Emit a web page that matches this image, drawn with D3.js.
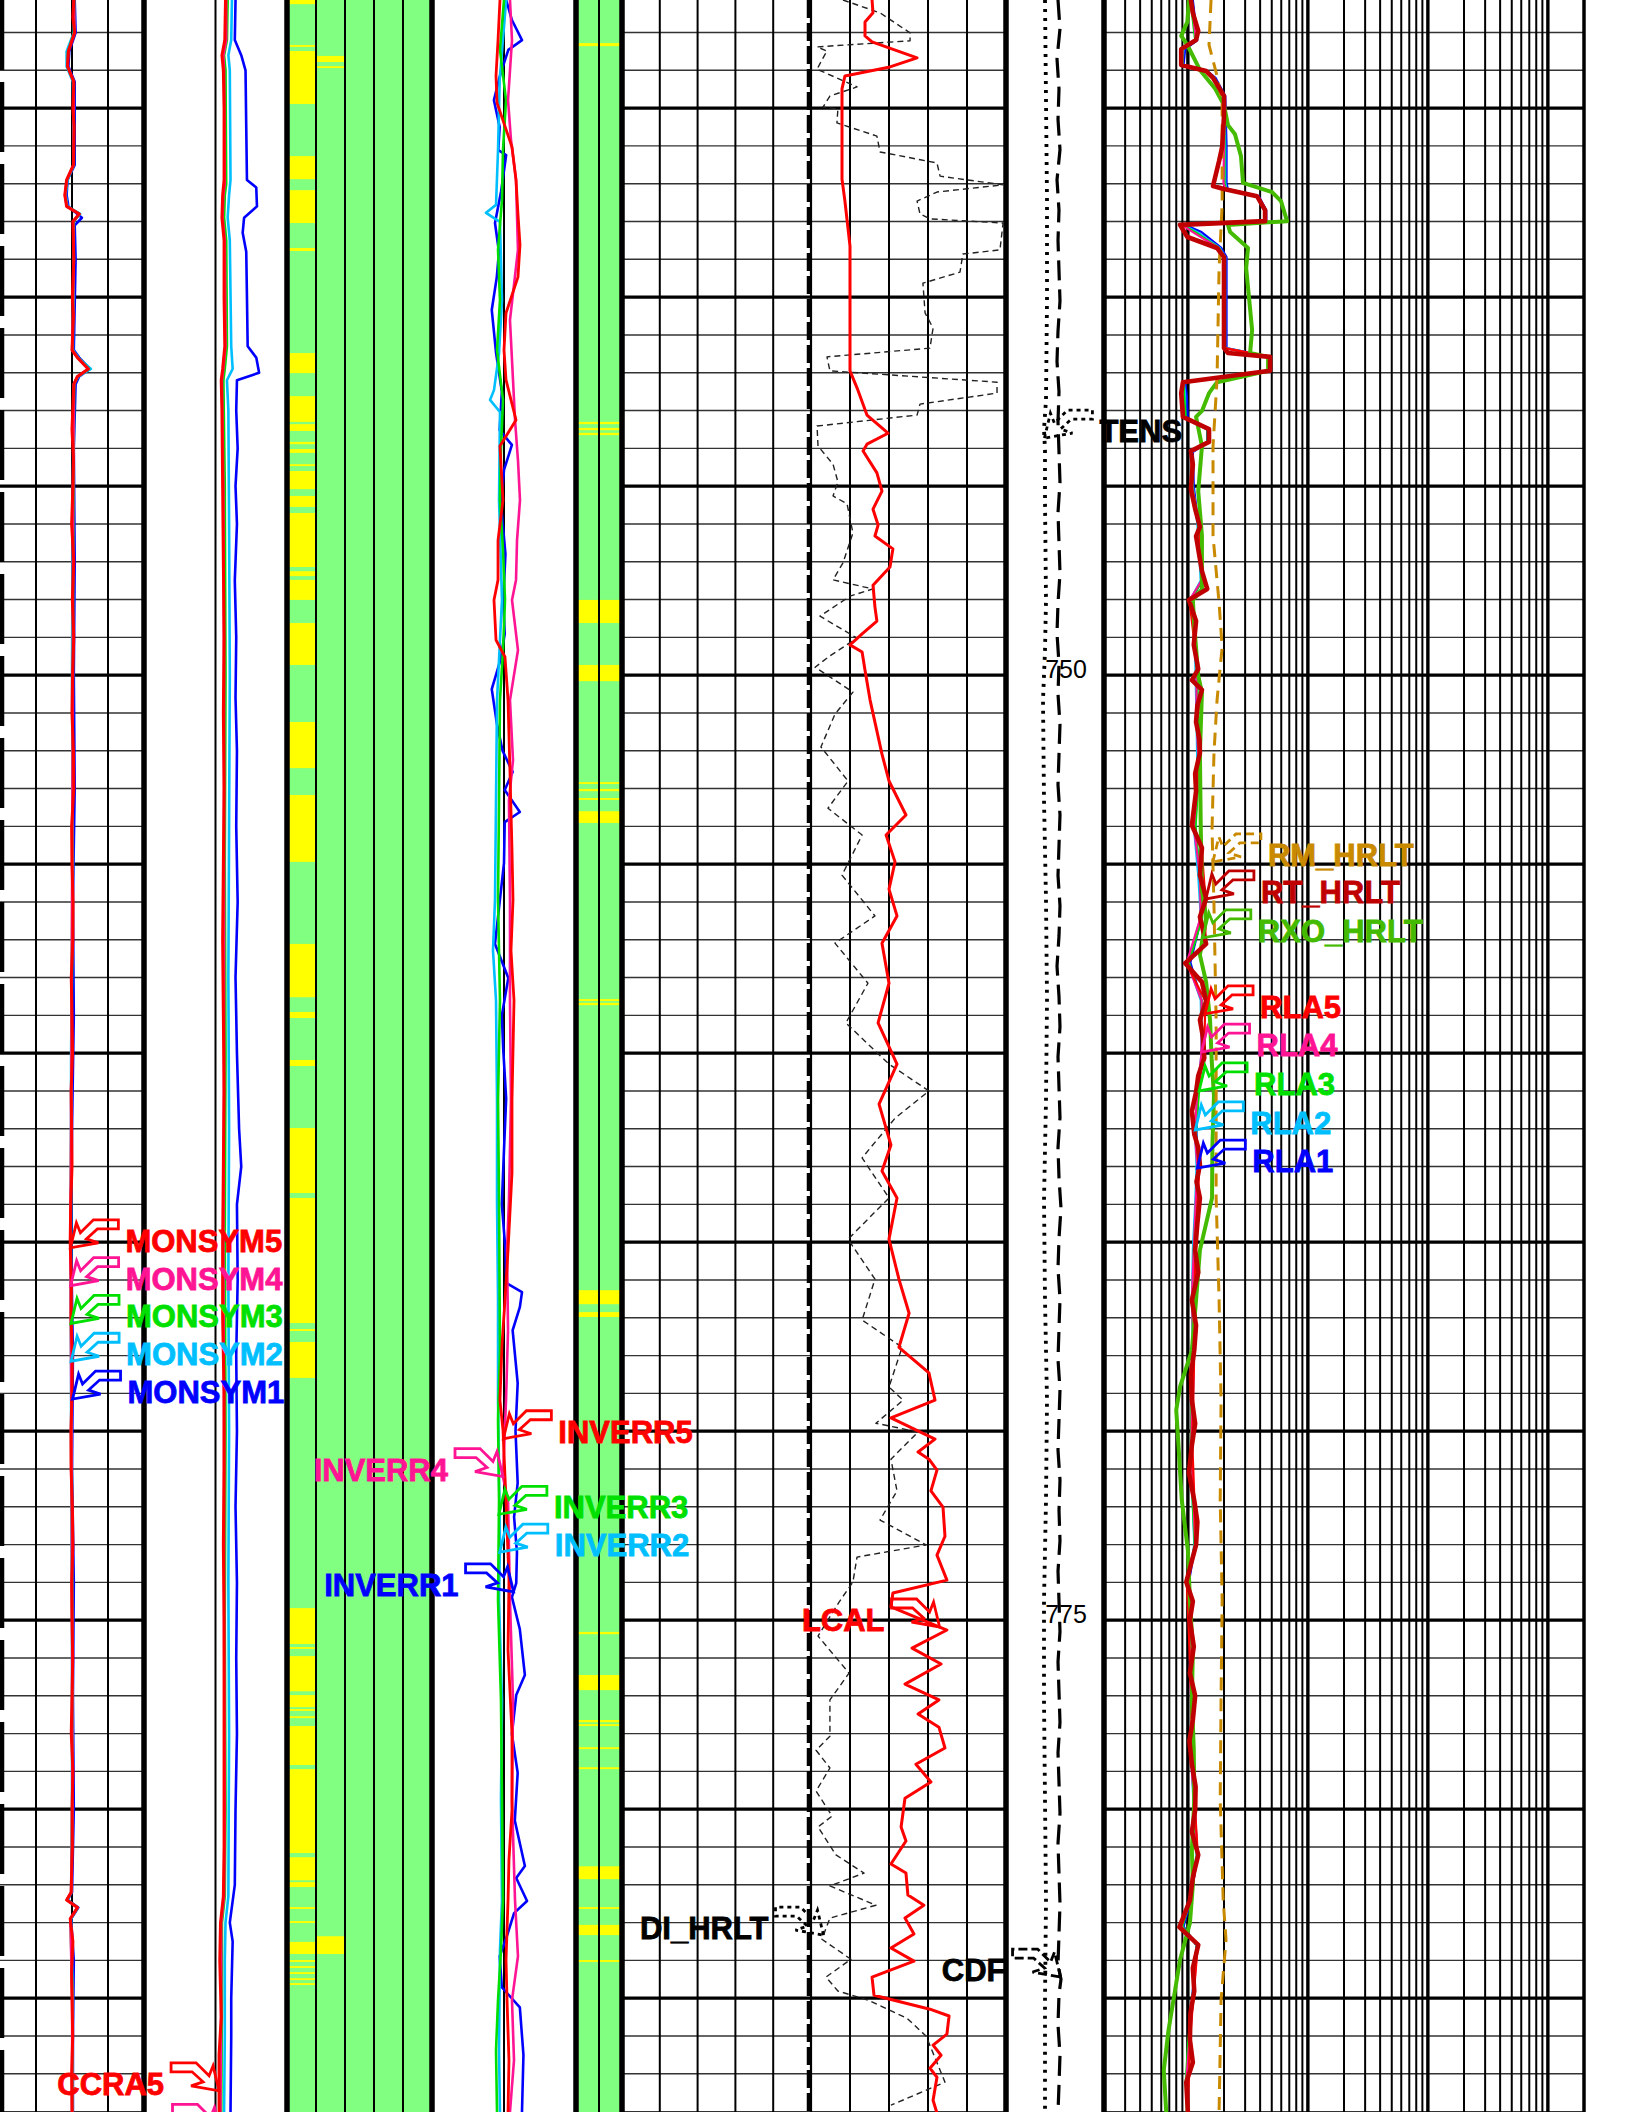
<!DOCTYPE html>
<html><head><meta charset="utf-8">
<script src="https://cdn.jsdelivr.net/npm/d3@7"></script>
<style>html,body{margin:0;padding:0;background:#fff}svg{display:block}</style>
</head><body>
<svg id="c" width="1632" height="2112"></svg>
<script>
// ---------------- DATA ----------------
const depthTop = 732.14, depthBottom = 788.01;
const majorDepths = [735,740,745,750,755,760,765,770,775,780,785];
const minorDepths = d3.range(733, 789, 1);
const depthLabels = [750, 775];

// Track 1 : MONSYM (0..8)
const monsym5 = [[732.14,4.1],[732.6,4.05],[733.0,4.15],[733.5,3.8],[733.9,3.75],[734.3,4.1],[735.0,4.05],[735.5,4.12],[736.5,4.08],[736.9,3.7],[737.3,3.6],[737.6,3.7],[737.8,4.4],[738.0,4.05],[739.0,4.1],[740.0,4.02],[740.5,4.08],[741.4,4.0],[741.6,4.3],[741.9,4.9],[742.1,4.3],[742.3,4.1],[743.5,4.0],[744.3,4.08],[745,4.05],[746,3.98],[747,4.1],[748,4.02],[749,4.1],[750,4.03],[751,4.0],[752,4.08],[753,4.1],[754,3.98],[755,4.0],[756,4.06],[757,4.05],[758,3.96],[759,4.0],[760,4.03],[761,3.95],[762,3.98],[763,4.0],[764,3.93],[765,3.9],[766,3.97],[767,3.95],[768,4.02],[769,4.0],[770,3.94],[771,3.95],[772,4.02],[773,4.05],[774,3.98],[775,4.0],[776,4.04],[777,4.0],[778,3.96],[779,4.05],[780,4.0],[781,4.02],[782.2,3.95],[782.4,3.7],[782.6,4.3],[782.9,3.9],[783.5,4.05],[784.3,3.98],[785,4.0],[786,4.04],[787,3.98],[788,4.0]];
const monsym4 = [[732.14,4.11],[733.0,4.14],[733.5,3.79],[733.9,3.76],[734.3,4.1],[736.5,4.09],[736.9,3.71],[737.3,3.61],[737.6,3.71],[737.8,4.41],[738.0,4.06],[739,4.1],[741.4,4.01],[741.6,4.31],[741.9,4.92],[742.1,4.31],[742.3,4.11],[745,4.06],[750,4.05],[755,4.01],[760,3.97],[765,3.91],[770,3.97],[775,4.01],[780,4.02],[782.2,3.96],[782.4,3.71],[782.6,4.31],[782.9,3.91],[785,4.01],[788,4.01]];
const monsym3 = [[732.14,4.12],[733.0,4.12],[733.5,3.78],[733.9,3.75],[734.3,4.1],[736.5,4.1],[736.9,3.72],[737.3,3.62],[737.6,3.72],[737.8,4.42],[738.0,4.08],[739,4.1],[741.4,4.02],[741.6,4.32],[741.9,4.95],[742.1,4.32],[742.3,4.12],[745,4.08],[750,4.05],[755,4.02],[760,3.98],[765,3.92],[770,3.98],[775,4.02],[780,4.02],[782.2,3.97],[782.4,3.72],[782.6,4.32],[782.9,3.92],[785,4.02],[788,4.02]];
const monsym2 = [[732.14,4.1],[733.0,4.1],[733.5,3.7],[733.9,3.7],[734.3,4.05],[736.5,4.1],[736.9,3.75],[737.3,3.65],[737.6,3.75],[737.8,4.45],[738.0,4.1],[739,4.1],[741.4,4.05],[741.6,4.35],[741.9,5.05],[742.1,4.35],[742.3,4.1],[745,4.05],[750,4.0],[755,4.05],[760,3.95],[765,3.95],[770,3.95],[775,4.0],[780,4.0],[782.2,3.95],[782.4,3.75],[782.6,4.3],[782.9,3.95],[785,4.05],[788,4.0]];
const monsym1 = [[732.14,4.15],[733.0,4.2],[733.5,3.85],[733.9,3.8],[734.3,4.15],[736.5,4.15],[736.9,3.75],[737.3,3.7],[737.6,3.8],[737.9,4.55],[738.1,4.15],[739,4.2],[741.4,4.1],[741.6,4.4],[741.9,5.0],[742.1,4.4],[742.3,4.2],[744,4.1],[747,4.15],[750,4.1],[753,4.15],[756,4.05],[759,4.1],[762,4.0],[765,3.95],[768,4.05],[771,4.0],[774,4.1],[777,4.05],[780,4.1],[782.2,4.0],[782.4,3.75],[782.6,4.35],[782.9,3.95],[784,4.1],[786,4.05],[788,4.05]];

// Track 2 : CCRA (0..2)
const ccra1 = [[732.14,1.28],[733.2,1.27],[733.6,1.36],[734.0,1.42],[735.5,1.43],[736.9,1.44],[737.1,1.57],[737.6,1.58],[737.9,1.40],[738.3,1.38],[738.8,1.43],[740,1.44],[741.3,1.45],[741.6,1.57],[742.0,1.61],[742.2,1.30],[743,1.29],[744,1.31],[745,1.28],[746,1.30],[747.5,1.27],[749,1.29],[750.6,1.28],[752,1.30],[754,1.29],[756,1.31],[758,1.28],[760,1.30],[762,1.33],[763,1.36],[764,1.30],[766,1.31],[768,1.29],[770,1.30],[772,1.28],[774,1.30],[776,1.29],[778,1.30],[780,1.28],[782,1.27],[783,1.20],[783.5,1.24],[785,1.22],[786,1.22],[788,1.21]];
const ccra2 = [[732.14,1.23],[733.2,1.22],[733.6,1.18],[734.0,1.20],[736.9,1.21],[737.3,1.19],[737.9,1.17],[738.5,1.20],[741.3,1.22],[741.9,1.24],[742.2,1.16],[743,1.18],[746,1.19],[750,1.20],[754,1.19],[758,1.18],[762,1.19],[766,1.18],[770,1.19],[774,1.18],[778,1.19],[782.3,1.18],[783,1.14],[784,1.13],[786,1.13],[788,1.12]];
const ccra3 = [[732.14,1.17],[733.2,1.16],[733.6,1.12],[734.0,1.14],[737.0,1.15],[737.3,1.13],[737.9,1.12],[738.5,1.15],[741.3,1.16],[741.9,1.13],[742.2,1.11],[745,1.13],[750,1.14],[755,1.13],[760,1.14],[765,1.13],[770,1.14],[775,1.13],[780,1.14],[782.3,1.13],[783,1.09],[785,1.09],[788,1.08]];
const ccra4 = [[732.14,1.15],[733.2,1.15],[733.6,1.11],[734.0,1.12],[737.0,1.13],[737.3,1.11],[737.9,1.10],[738.5,1.13],[741.3,1.14],[741.9,1.11],[742.2,1.09],[745,1.11],[750,1.12],[755,1.12],[760,1.12],[765,1.11],[770,1.12],[775,1.12],[780,1.13],[782.3,1.12],[783,1.08],[785,1.08],[788,1.07]];
const ccra5 = [[732.14,1.14],[733.2,1.13],[733.6,1.09],[734.0,1.11],[735,1.12],[736.9,1.12],[737.3,1.10],[737.9,1.09],[738.5,1.12],[740,1.12],[741.3,1.13],[741.9,1.10],[742.2,1.08],[743,1.09],[745,1.10],[747,1.11],[749,1.12],[751,1.11],[753,1.12],[755,1.11],[757,1.10],[759,1.11],[761,1.12],[763,1.11],[765,1.10],[767,1.10],[769,1.12],[771,1.12],[773,1.11],[775,1.12],[777,1.12],[779,1.12],[781,1.12],[782.3,1.11],[783,1.07],[784,1.06],[785.5,1.08],[786.5,1.05],[788,1.05]];

// Track 4 : INVERR (0..2)
const inverr1 = [[732.14,1.03],[732.67,1.11],[733.2,1.25],[733.46,1.06],[734.1,0.95],[734.79,0.86],[735.5,0.94],[736.11,0.92],[736.24,1.03],[737.2,0.96],[738.04,0.875],[738.8,0.93],[739.47,0.90],[740.34,0.83],[741.48,0.89],[742.5,0.97],[743.52,0.94],[743.91,1.11],[744.57,1.0],[745.5,0.96],[746.8,1.02],[748.01,0.99],[748.91,1.01],[749.6,0.95],[750.37,0.83],[751.27,0.90],[752.0,0.98],[752.56,1.12],[753.04,1.01],[753.62,1.22],[753.89,1.01],[754.97,1.0],[756.0,0.94],[757.11,0.875],[758.01,1.06],[759.0,0.97],[759.92,0.99],[761.2,1.03],[762.56,1.0],[764.0,0.97],[765.2,1.02],[766.08,1.03],[766.32,1.25],[766.72,1.22],[767.33,1.12],[768.73,1.19],[770.0,1.16],[771.37,1.19],[772.27,1.14],[773.2,1.18],[774.02,1.17],[774.39,1.11],[775.24,1.22],[776.45,1.29],[776.98,1.17],[778.01,1.11],[779.04,1.19],[780.3,1.15],[781.5,1.29],[781.82,1.17],[782.43,1.32],[782.75,1.14],[783.3,1.05],[783.89,0.94],[784.71,0.97],[785.24,1.22],[786.5,1.27],[788,1.25]];
const inverr2 = [[732.14,1.03],[734.26,0.94],[736.11,0.917],[737.56,0.889],[737.77,0.75],[738.01,0.944],[740.08,0.972],[741.5,0.93],[742.46,0.861],[742.72,0.806],[743.04,0.944],[745.37,0.931],[748.01,0.972],[750.66,0.903],[753.31,0.889],[755.95,0.875],[757.28,0.847],[758.60,0.889],[761.24,0.903],[763.89,0.903],[766.53,0.917],[769.18,0.917],[772.93,0.944],[774.47,0.931],[777.12,0.972],[779.76,0.958],[782.41,0.972],[783.73,0.944],[786.38,0.931],[788.01,0.944]];
const inverr3 = [[732.14,1.0],[733.46,0.944],[734.79,1.028],[736.11,0.986],[737.43,0.972],[738.75,0.917],[740.08,0.944],[741.40,0.903],[742.72,0.986],[744.05,0.958],[745.37,0.944],[746.69,0.986],[748.01,1.014],[749.34,0.986],[750.66,0.944],[753.31,0.931],[755.95,0.917],[758.60,0.944],[761.24,0.917],[763.89,0.931],[767.86,0.944],[769.71,0.917],[771.83,0.931],[774.47,0.917],[777.12,0.958],[779.76,0.972],[782.41,0.986],[783.73,0.958],[785.05,0.917],[786.38,0.889],[788.01,0.903]];
const inverr4 = [[732.14,1.083],[733.20,1.111],[734.79,1.056],[735.84,1.097],[736.90,1.167],[738.75,1.194],[740.61,1.083],[742.19,1.125],[743.25,1.153],[744.31,1.194],[745.37,1.222],[746.43,1.181],[747.48,1.167],[748.01,1.111],[749.34,1.194],[750.66,1.083],[752.25,1.125],[753.31,1.069],[755.95,1.083],[758.60,1.083],[761.24,1.097],[763.89,1.069],[765.21,1.042],[767.33,1.056],[769.18,1.028],[771.21,0.986],[771.83,1.056],[774.47,1.083],[777.12,1.125],[779.76,1.111],[782.41,1.153],[783.89,1.194],[785.05,1.111],[786.64,1.139],[788.01,1.083]];
const inverr5 = [[732.14,0.944],[733.20,0.917],[734.15,0.889],[734.86,0.903],[736.03,1.111],[736.90,1.167],[737.80,1.194],[738.62,1.222],[739.47,1.194],[740.42,1.028],[741.40,1.0],[742.19,1.028],[743.25,1.167],[743.94,0.944],[745.37,0.986],[746.43,0.917],[747.48,0.917],[748.01,0.861],[749.07,0.889],[749.52,1.014],[750.66,1.056],[752.56,1.083],[754.63,1.111],[755.95,1.125],[757.28,1.097],[758.60,1.139],[761.24,1.111],[763.17,1.111],[765.21,1.056],[766.53,1.014],[767.72,0.972],[769.18,0.944],[769.97,0.986],[771.83,1.028],[773.94,1.069],[775.79,1.056],[778.01,1.111],[780.02,1.111],[781.34,1.069],[782.41,1.056],[783.99,1.028],[785.05,1.042],[786.64,1.069],[788.01,1.056]];

// Track 7 : LCAL (6..16 in) and DI_HRLT (0..100)
const lcal = [[732.14,9.13],[732.48,9.18],[732.72,8.77],[733.09,8.77],[733.25,9.13],[733.67,11.44],[733.91,10.05],[734.15,7.74],[734.49,7.59],[736.88,7.59],[737.46,7.74],[738.65,8.0],[741.95,8.0],[742.40,8.36],[743.12,8.87],[743.60,9.95],[743.89,8.87],[744.07,8.67],[744.65,9.38],[745.13,9.64],[745.61,9.18],[746.03,9.44],[746.32,9.28],[746.66,10.2],[747.14,10.05],[747.62,9.18],[748.20,9.28],[748.57,9.38],[748.91,8.62],[749.20,8.0],[749.39,8.62],[749.87,8.77],[750.66,9.03],[752.09,9.64],[752.80,10.0],[753.70,10.87],[754.23,9.85],[754.94,10.31],[755.66,10.0],[756.37,10.41],[757.09,9.64],[758.15,10.0],[759.20,9.44],[760.29,10.41],[761.35,9.49],[762.43,10.10],[763.12,9.64],[763.83,10.41],[764.92,10.0],[765.98,10.51],[766.88,11.03],[767.78,10.51],[768.46,12.05],[769.18,12.36],[769.65,10.10],[770.21,12.36],[770.55,11.49],[770.74,12.05],[771.03,12.46],[771.58,12.15],[772.01,12.77],[772.78,12.87],[773.28,12.46],[773.94,12.97],[774.28,10.20],[774.65,10.10],[775.26,12.97],[775.74,11.18],[776.16,12.67],[776.69,10.82],[777.11,12.56],[777.48,11.49],[777.83,12.56],[778.38,12.87],[778.81,11.38],[779.28,12.15],[779.71,10.82],[780.47,10.62],[780.84,10.87],[781.45,10.10],[781.69,10.87],[782.27,10.97],[782.54,11.79],[782.88,10.82],[783.30,11.28],[783.67,10.10],[784.02,11.28],[784.44,9.13],[784.92,9.23],[785.29,12.10],[785.47,13.08],[785.95,12.97],[786.24,12.26],[786.51,12.67],[786.85,12.10],[787.09,12.46],[787.70,12.26],[788.04,12.46]];
const diHrlt = [[732.14,16.4],[732.48,35.4],[733.01,50.8],[733.22,50.8],[733.38,3.1],[733.49,8.2],[733.67,6.2],[733.97,3.1],[734.44,23.6],[734.68,9.7],[734.97,6.2],[735.02,13.8],[735.39,13.3],[735.74,33.8],[736.16,35.4],[736.45,64.6],[736.80,66.2],[737.03,98.5],[737.22,64.6],[737.46,54.4],[737.80,55.9],[737.93,61.0],[738.04,98.5],[738.75,96.9],[738.86,77.9],[739.34,76.4],[739.63,57.4],[740.42,58.5],[740.82,62.6],[741.35,61.0],[741.58,8.2],[741.95,9.7],[742.25,95.4],[742.54,95.4],[742.83,55.9],[743.12,54.4],[743.41,3.1],[743.94,3.6],[744.42,11.3],[744.89,13.8],[745.26,11.3],[745.47,18.5],[746.24,21.5],[747.03,16.4],[747.48,11.3],[747.72,31.8],[747.91,20.0],[748.44,4.6],[749.02,23.6],[749.49,9.7],[749.79,2.1],[750.45,21.5],[751.03,12.3],[751.90,5.1],[752.80,19.0],[753.52,8.7],[754.23,26.2],[755.29,15.9],[756.37,32.8],[757.09,12.3],[758.15,29.2],[759.20,17.9],[760.29,40.0],[761.00,60.5],[761.72,43.1],[762.77,26.2],[763.83,40.0],[764.92,19.0],[765.98,32.8],[767.06,26.2],[767.78,46.7],[768.83,40.0],[769.18,47.2],[769.79,33.3],[770.02,54.9],[770.74,41.0],[771.58,44.1],[772.35,35.4],[773.01,59.0],[773.33,23.6],[773.99,21.5],[774.52,14.4],[775.42,3.6],[776.40,19.5],[777.11,9.7],[778.07,9.7],[778.44,2.6],[778.91,9.7],[779.52,2.6],[780.18,10.8],[780.47,3.6],[781.21,12.8],[781.69,27.2],[782.03,9.7],[782.54,33.3],[782.88,9.7],[783.44,5.6],[783.97,20.5],[784.44,7.7],[784.81,13.8],[785.05,29.2],[785.53,49.2],[786.00,59.0],[787.22,68.7],[787.83,41.0]];

// Depth track : TENS (0..5000) and CDF (0..10000)
const tens = [[732.14,1990],[734.79,2041],[737.43,2092],[740.08,2092],[742.72,2041],[743.5,1939],[744.05,1990],[745.37,1990],[748.01,2041],[749.34,1990],[750.66,1888],[753.31,1939],[755.95,2041],[758.60,2092],[761.24,2041],[763.89,1939],[766.53,1990],[769.18,2092],[771.83,2041],[774.47,1939],[777.12,1939],[779.76,1990],[782.41,2041],[785.05,1990],[788.01,1990]];
const cdf = [[732.14,5306],[732.9,5510],[733.7,5204],[734.5,5408],[735.3,5306],[736.1,5510],[736.9,5204],[737.7,5408],[738.5,5306],[739.3,5408],[740.1,5510],[740.9,5306],[741.7,5204],[742.5,5408],[743.3,5306],[744.1,5408],[744.9,5510],[745.7,5306],[746.5,5408],[747.3,5510],[748.1,5306],[748.9,5204],[749.7,5408],[750.5,5306],[751.3,5510],[752.1,5408],[752.9,5306],[753.7,5510],[754.5,5408],[755.3,5306],[756.1,5510],[756.9,5408],[757.7,5204],[758.5,5408],[759.3,5510],[760.1,5306],[760.9,5408],[761.7,5510],[762.5,5306],[763.3,5408],[764.1,5612],[764.9,5408],[765.7,5306],[766.5,5510],[767.3,5408],[768.1,5306],[768.9,5510],[769.7,5408],[770.5,5306],[771.3,5510],[772.1,5408],[772.9,5510],[773.7,5306],[774.5,5408],[775.3,5510],[776.1,5306],[776.9,5408],[777.7,5510],[778.5,5306],[779.3,5408],[780.1,5510],[780.9,5306],[781.7,5408],[782.5,5510],[783.3,5408],[784.1,5306],[784.5,5612],[784.9,5408],[785.7,5306],[786.5,5510],[787.3,5408],[788.01,5306]];

// Track 8 : resistivity (log 0.2..2000 ohm.m)
const rtHrlt = [[732.14,1.06],[732.48,1.10],[732.96,1.22],[733.20,1.17],[733.44,0.88],[733.86,0.88],[734.02,1.42],[734.20,1.62],[734.68,2.0],[735.21,2.0],[736.03,1.93],[736.40,1.82],[737.06,1.62],[737.14,2.0],[737.33,3.77],[737.70,4.40],[737.99,4.40],[738.09,0.86],[738.41,0.99],[738.70,1.75],[738.94,2.0],[741.35,2.0],[741.48,2.16],[741.58,4.84],[741.95,4.84],[742.25,0.91],[742.54,0.88],[743.17,0.91],[743.49,1.50],[743.83,1.50],[744.07,1.06],[744.42,1.10],[745.08,1.06],[745.6,1.15],[746.08,1.26],[746.32,1.17],[746.8,1.24],[747.25,1.31],[747.72,1.45],[748.01,1.02],[748.57,1.17],[749.2,1.12],[749.84,1.22],[750.13,1.08],[750.39,1.31],[750.8,1.2],[751.24,1.17],[751.7,1.25],[752.06,1.26],[752.6,1.15],[753.07,1.17],[753.97,1.08],[754.57,1.31],[755.29,1.26],[755.90,1.42],[756.40,1.26],[757.11,1.42],[757.62,0.95],[758.12,1.31],[758.62,1.42],[759.12,1.26],[759.6,1.34],[760.13,1.37],[760.6,1.22],[761.03,1.17],[761.53,1.08],[762.14,1.13],[762.5,1.22],[762.96,1.26],[763.4,1.18],[763.83,1.26],[764.5,1.2],[765.21,1.15],[765.8,1.22],[766.53,1.08],[767.2,1.17],[767.86,1.13],[768.5,1.06],[769.18,1.08],[769.8,1.15],[770.37,1.08],[771.1,1.02],[771.83,1.13],[772.4,1.2],[773.01,1.17],[773.99,0.97],[774.5,1.1],[775.0,1.04],[775.7,1.12],[776.4,1.04],[777.0,1.15],[777.64,1.10],[778.2,1.03],[778.81,1.08],[779.4,1.16],[780.02,1.15],[780.6,1.08],[781.21,1.22],[781.8,1.1],[782.41,1.04],[783.12,0.85],[783.59,1.22],[784.2,1.1],[784.81,1.13],[785.4,1.05],[786.10,1.04],[786.7,1.1],[787.22,0.97],[788.01,1.0]];
const rxoHrlt = [[732.14,1.02],[732.72,0.99],[733.09,0.88],[733.33,0.99],[733.99,1.26],[734.49,1.69],[734.92,2.0],[735.45,2.16],[735.69,2.47],[736.27,2.77],[736.98,2.88],[737.22,5.03],[737.46,5.97],[737.99,6.71],[738.09,2.16],[738.28,2.25],[738.70,3.17],[739.23,3.06],[740.87,3.43],[741.48,3.30],[741.58,4.66],[741.95,4.66],[742.25,1.75],[742.54,1.50],[743.01,1.31],[743.17,1.17],[743.94,1.31],[745.13,1.22],[746.32,1.31],[747.72,1.31],[748.01,1.10],[748.67,1.13],[750.02,1.22],[750.45,1.31],[752.06,1.26],[754.0,1.28],[755.68,1.31],[756.40,1.42],[757.40,1.26],[758.12,1.42],[759.12,1.53],[760.2,1.58],[761.13,1.65],[762.5,1.6],[763.83,1.59],[765.21,1.26],[766.53,1.17],[767.86,1.08],[768.83,0.86],[769.44,0.80],[770.23,0.83],[771.83,0.89],[773.15,1.0],[774.47,1.04],[775.8,1.1],[777.12,1.08],[778.4,1.12],[779.76,1.13],[781.08,1.08],[782.0,1.1],[783.01,1.04],[783.99,0.86],[784.81,0.78],[785.84,0.69],[786.90,0.63],[788.01,0.66]];
const rmHrlt = [[732.14,1.56],[733.33,1.50],[734.15,1.75],[734.86,1.93],[737.56,1.93],[739.23,1.82],[742.17,1.75],[743.94,1.62],[746.32,1.62],[748.09,1.82],[749.26,1.93],[750.66,1.75],[752.06,1.65],[754.07,1.59],[756.08,1.65],[759.12,1.72],[763.83,1.72],[766.53,1.82],[769.18,1.89],[771.83,1.86],[774.47,1.93],[777.12,1.89],[779.76,1.86],[782.41,1.97],[783.46,2.08],[785.05,1.89],[788.01,1.82]];
const rla1 = [[732.14,1.1],[733.2,1.2],[733.44,0.95],[733.86,0.92],[734.02,1.45],[734.2,1.7],[734.68,2.05],[736.0,2.1],[736.98,2.1],[737.14,2.15],[737.33,3.9],[737.7,4.5],[737.99,4.5],[738.09,0.95],[738.28,1.3],[738.7,1.9],[738.94,2.1],[741.35,2.1],[741.58,4.8],[741.95,4.8],[742.25,0.95],[742.6,0.98],[743.2,1.0],[743.5,1.45],[743.85,1.45],[744.1,1.1],[745,1.12],[746,1.22],[747.5,1.3],[748,1.08],[749,1.15],[750,1.18],[751.2,1.2],[752.5,1.22],[754,1.15],[755.3,1.25],[756.4,1.3],[757.6,1.05],[758.6,1.3],[760,1.32],[761,1.22],[762.1,1.18],[763,1.2],[764,1.18],[765.2,1.12],[766.5,1.1],[768,1.12],[769.2,1.1],[770.5,1.08],[772,1.12],[773,1.15],[774,1.02],[775,1.06],[776.4,1.05],[777.6,1.1],[779,1.1],[780,1.14],[781.2,1.2],[782.4,1.06],[783.1,0.92],[783.6,1.18],[784.8,1.1],[786.1,1.02],[787.2,0.98],[788,1.0]];
const rla2 = [[732.14,1.08],[733.2,1.18],[733.44,0.92],[733.86,0.9],[734.02,1.43],[734.2,1.66],[734.68,2.03],[736.0,2.05],[736.98,2.05],[737.14,2.1],[737.33,3.85],[737.7,4.45],[737.99,4.45],[738.09,0.92],[738.28,1.2],[738.7,1.85],[738.94,2.05],[741.35,2.05],[741.58,4.8],[741.95,4.8],[742.25,0.93],[742.6,0.95],[743.2,0.95],[743.5,1.48],[743.85,1.48],[744.1,1.08],[745,1.1],[746,1.2],[747.5,1.28],[748,1.05],[749,1.14],[750,1.16],[751.2,1.18],[752.5,1.2],[754,1.12],[755.3,1.22],[756.4,1.28],[757.6,1.0],[758.6,1.28],[760,1.3],[761,1.2],[762.1,1.15],[763,1.18],[764,1.15],[765.2,1.1],[766.5,1.08],[768,1.1],[769.2,1.08],[770.5,1.06],[772,1.1],[773,1.13],[774,1.0],[775,1.05],[776.4,1.04],[777.6,1.08],[779,1.08],[780,1.12],[781.2,1.18],[782.4,1.05],[783.1,0.9],[783.6,1.18],[784.8,1.1],[786.1,1.02],[787.2,0.97],[788,0.99]];
const rla3 = [[732.14,1.05],[733.2,1.15],[733.44,0.9],[733.86,0.9],[734.02,1.4],[734.2,1.65],[734.68,2.0],[736.0,2.02],[736.98,2.02],[737.14,2.08],[737.33,3.8],[737.7,4.4],[737.99,4.42],[738.09,0.9],[738.28,1.15],[738.7,1.82],[738.94,2.02],[741.35,2.02],[741.58,4.75],[741.95,4.75],[742.25,0.92],[742.6,0.93],[743.2,0.96],[743.5,1.46],[743.85,1.46],[744.1,1.07],[745,1.09],[746,1.22],[747.5,1.32],[748,1.06],[749,1.16],[750,1.2],[751.2,1.22],[752.5,1.24],[754,1.16],[755.3,1.26],[756.4,1.32],[757.6,1.02],[758.6,1.3],[760,1.32],[761,1.24],[762.1,1.17],[763,1.2],[764,1.17],[765.2,1.12],[766.5,1.09],[768,1.11],[769.2,1.07],[770.5,1.06],[772,1.1],[773,1.14],[774,1.0],[775,1.05],[776.4,1.05],[777.6,1.09],[779,1.09],[780,1.13],[781.2,1.19],[782.4,1.04],[783.1,0.9],[783.6,1.19],[784.8,1.11],[786.1,1.01],[787.2,0.96],[788,0.98]];
const rla4 = [[732.14,1.07],[733.2,1.17],[733.44,0.9],[733.86,0.89],[734.02,1.42],[734.2,1.64],[734.68,2.01],[736.0,2.0],[736.98,1.98],[737.14,2.05],[737.33,3.8],[737.7,4.42],[737.99,4.42],[738.09,0.89],[738.28,1.1],[738.7,1.8],[738.94,2.02],[741.35,2.02],[741.58,4.82],[741.95,4.82],[742.25,0.92],[742.6,0.9],[743.2,0.93],[743.5,1.48],[743.85,1.48],[744.1,1.07],[745,1.08],[746,1.24],[747.5,1.3],[748,1.04],[749,1.16],[750,1.18],[751.2,1.18],[752.5,1.24],[754,1.12],[755.3,1.26],[756.4,1.28],[757.6,0.98],[758.6,1.3],[760,1.3],[761,1.2],[762.1,1.14],[763,1.2],[764,1.16],[765.2,1.12],[766.5,1.08],[768,1.12],[769.2,1.08],[770.5,1.07],[772,1.12],[773,1.15],[774,0.99],[775,1.04],[776.4,1.04],[777.6,1.09],[779,1.08],[780,1.14],[781.2,1.2],[782.4,1.04],[783.1,0.88],[783.6,1.2],[784.8,1.12],[786.1,1.03],[787.2,0.97],[788,0.99]];
const rla5 = [[732.14,1.06],[732.48,1.1],[732.96,1.2],[733.2,1.16],[733.44,0.88],[733.86,0.89],[734.02,1.42],[734.2,1.62],[734.68,2.0],[735.21,2.01],[736.03,1.94],[736.4,1.84],[737.06,1.64],[737.14,2.02],[737.33,3.78],[737.7,4.42],[737.99,4.42],[738.09,0.87],[738.41,1.0],[738.7,1.76],[738.94,2.01],[741.35,2.01],[741.58,4.84],[741.95,4.84],[742.25,0.92],[742.54,0.89],[743.17,0.92],[743.49,1.5],[743.83,1.5],[744.07,1.07],[745.08,1.07],[746.08,1.25],[747.25,1.3],[747.72,1.43],[748.01,1.03],[749.84,1.2],[750.39,1.3],[751.24,1.18],[752.06,1.25],[753.07,1.18],[753.97,1.1],[754.57,1.3],[755.9,1.4],[757.11,1.4],[757.62,0.97],[758.62,1.4],[760.13,1.36],[761.53,1.1],[762.96,1.25],[765.21,1.15],[767.86,1.13],[770.37,1.09],[773.01,1.17],[773.99,0.98],[776.4,1.05],[778.81,1.09],[781.21,1.21],[782.41,1.05],[783.12,0.87],[783.59,1.21],[786.1,1.04],[788.01,1.0]];

// Image tracks : yellow intervals [top depth, bottom depth]
const img1Col1Yellow = [[732.14,732.25],[733.33,733.38],[733.49,734.89],[736.27,736.88],[737.17,738.04],[738.70,738.78],[741.48,742.01],[742.62,743.30],[743.36,743.54],[743.83,743.89],[744.02,744.12],[744.42,744.47],[744.60,745.08],[745.26,745.55],[745.71,747.14],[747.25,747.38],[747.48,748.01],[748.62,749.73],[751.24,752.46],[753.17,754.94],[757.11,758.52],[758.91,759.07],[760.18,760.34],[761.98,763.70],[763.83,767.14],[767.30,767.35],[767.64,768.59],[774.68,775.63],[775.71,775.76],[775.95,776.88],[776.98,777.30],[777.35,777.40],[777.54,777.59],[777.80,778.83],[778.94,781.16],[781.27,781.88],[781.93,782.06],[782.59,782.64],[782.96,783.01],[783.51,783.83],[783.99,784.04],[784.15,784.20],[784.31,784.36],[784.47,784.52],[784.60,784.65]];
const img1Col2Yellow = [[733.62,733.78],[733.89,733.94],[783.36,783.83]];
const img2Yellow = [[733.28,733.36],[743.30,743.36],[743.46,743.52],[743.59,743.65],[748.01,748.62],[749.73,750.16],[752.83,752.88],[753.01,753.07],[753.25,753.30],[753.60,753.91],[758.57,758.62],[758.67,758.73],[766.27,766.64],[766.85,766.98],[775.31,775.37],[776.45,776.85],[777.64,777.70],[777.75,777.80],[778.36,778.41],[778.89,778.94],[781.51,781.85],[782.59,782.64],[783.06,783.33],[783.99,784.04]];

// Curve labels: [name, depth of arrow tip, text on left side?]
const curveLabels = [["MONSYM5",765.15,false],["MONSYM4",766.15,false],["MONSYM3",767.15,false],["MONSYM2",768.15,false],["MONSYM1",769.15,false],
 ["INVERR5",770.2,false],["INVERR4",771.2,true],["INVERR3",772.2,false],["INVERR2",773.2,false],["INVERR1",774.25,true],
 ["CCRA5",787.45,true],["CCRA4",788.55,true],["LCAL",775.18,true],["DI_HRLT",783.33,true],["CDF",784.44,true],["TENS",743.73,false],
 ["RM_HRLT",754.94,false],["RT_HRLT",755.92,false],["RXO_HRLT",756.95,false],
 ["RLA5",758.96,false],["RLA4",759.97,false],["RLA3",761.0,false],["RLA2",762.03,false],["RLA1",763.04,false]];

// ---------------- DRAWING ----------------
const W = 1632, H = 2112;
const svg = d3.select("#c");
const y = d3.scaleLinear().domain([depthTop, depthBottom]).range([0, H]);

const RED="#FF0000", PINK="#FF1493", GREEN="#00E000", CYAN="#00BFFF", BLUE="#0000FF",
      RTC="#C00000", RXOC="#44BB00", RMC="#C98A00", LGREEN="#80FF80", YEL="#FFFF00";

const x1 = d3.scaleLinear().domain([0,8]).range([0,144]);
const x2 = d3.scaleLinear().domain([0,2]).range([144,287]);
const xImg1 = d3.scaleLinear().domain([0,5]).range([287,432]);
const x4 = d3.scaleLinear().domain([0,2]).range([432,576]);
const xImg2 = d3.scaleLinear().domain([0,2]).range([576,622]);
const x6 = d3.scaleLinear().domain([0,5]).range([622,811]);
const xL = d3.scaleLinear().domain([6,16]).range([811,1006]);
const xDI = d3.scaleLinear().domain([0,100]).range([811,1006]);
const xT = d3.scaleLinear().domain([0,5000]).range([1006,1104]);
const xC = d3.scaleLinear().domain([0,10000]).range([1006,1104]);
const xR = d3.scaleLog().domain([0.2,2000]).range([1104,1584]);

svg.append("rect").attr("width",W).attr("height",H).attr("fill","#fff");

// image tracks
const gImg = svg.append("g");
gImg.append("rect").attr("x",xImg1(0)).attr("y",0).attr("width",xImg1(5)-xImg1(0)).attr("height",H).attr("fill",LGREEN);
gImg.append("rect").attr("x",xImg2(0)).attr("y",0).attr("width",xImg2(2)-xImg2(0)).attr("height",H).attr("fill",LGREEN);
function yellowBands(data, xa, xb){
  gImg.selectAll(null).data(data).enter().append("rect")
    .attr("x",xa).attr("width",xb-xa)
    .attr("y",d=>y(d[0])).attr("height",d=>Math.max(1.5,y(d[1])-y(d[0])))
    .attr("fill",YEL);
}
yellowBands(img1Col1Yellow, xImg1(0), xImg1(1));
yellowBands(img1Col2Yellow, xImg1(1), xImg1(2));
yellowBands(img2Yellow, xImg2(0), xImg2(2));
[1,2,3,4].forEach(i=>gImg.append("line").attr("x1",xImg1(i)).attr("x2",xImg1(i)).attr("y1",0).attr("y2",H).attr("stroke","#000").attr("stroke-width",2));
gImg.append("line").attr("x1",xImg2(1)).attr("x2",xImg2(1)).attr("y1",0).attr("y2",H).attr("stroke","#000").attr("stroke-width",2);

// horizontal grids
const gGrid = svg.append("g");
function hgrid(xa, xb){
  minorDepths.filter(d=>!majorDepths.includes(d)).forEach(d=>{
    gGrid.append("line").attr("x1",xa).attr("x2",xb).attr("y1",y(d)).attr("y2",y(d)).attr("stroke","#333").attr("stroke-width",1.4);
  });
  majorDepths.forEach(d=>{
    gGrid.append("line").attr("x1",xa).attr("x2",xb).attr("y1",y(d)).attr("y2",y(d)).attr("stroke","#000").attr("stroke-width",3.2);
  });
}
hgrid(0,144); hgrid(622,1006); hgrid(1104,1584);
function vline(x, w, col, dash){
  const l = gGrid.append("line").attr("x1",x).attr("x2",x).attr("y1",0).attr("y2",H).attr("stroke",col||"#000").attr("stroke-width",w);
  if(dash) l.attr("stroke-dasharray",dash);
  return l;
}
[2,4,6].forEach(v=>vline(x1(v),2));
[1,2,3,4].forEach(v=>vline(x6(v),2));
[8,10,12,14].forEach(v=>vline(xL(v),2));
vline(x2(1),2); vline(x4(1),2);
// log grid
[-1,0,1,2,3].forEach(k=>{
  for(let m=1;m<=9;m++){
    const v = m*Math.pow(10,k);
    if(v>0.2 && v<2000) vline(xR(v), m===1?3.4:2);
  }
});
// track borders
[144,287,432,576,622,1006,1104].forEach(x=>vline(x,5.5));
vline(1584,3.5);
vline(811,2.2);
vline(809,4.5,"#000","18,5");
vline(2,4.5,"#000","70,12");

// curves
const gCurves = svg.append("g").attr("fill","none").attr("stroke-linejoin","round").attr("stroke-linecap","round");
function drawCurve(data, xs, color, w, dash){
  const line = d3.line().x(d=>xs(d[1])).y(d=>y(d[0]));
  const p = gCurves.append("path").datum(data).attr("d",line).attr("stroke",color).attr("stroke-width",w);
  if(dash) p.attr("stroke-dasharray",dash).attr("stroke-linecap","butt");
  return p;
}
const curveTable = {
  MONSYM1:{data:monsym1,x:x1,color:BLUE,w:2.6}, MONSYM2:{data:monsym2,x:x1,color:CYAN,w:2.6},
  MONSYM3:{data:monsym3,x:x1,color:GREEN,w:2.6}, MONSYM4:{data:monsym4,x:x1,color:PINK,w:2.6},
  MONSYM5:{data:monsym5,x:x1,color:RED,w:3},
  CCRA1:{data:ccra1,x:x2,color:BLUE,w:2.6}, CCRA2:{data:ccra2,x:x2,color:CYAN,w:2.6},
  CCRA3:{data:ccra3,x:x2,color:GREEN,w:2.6}, CCRA4:{data:ccra4,x:x2,color:PINK,w:2.6},
  CCRA5:{data:ccra5,x:x2,color:RED,w:3},
  INVERR1:{data:inverr1,x:x4,color:BLUE,w:2.6}, INVERR2:{data:inverr2,x:x4,color:CYAN,w:2.6},
  INVERR3:{data:inverr3,x:x4,color:GREEN,w:2.6}, INVERR4:{data:inverr4,x:x4,color:PINK,w:2.6},
  INVERR5:{data:inverr5,x:x4,color:RED,w:2.8},
  DI_HRLT:{data:diHrlt,x:xDI,color:"#222",w:1.4,dash:"6,4",label:"#000",adash:"4,4"},
  LCAL:{data:lcal,x:xL,color:RED,w:3},
  TENS:{data:tens,x:xT,color:"#000",w:3.8,dash:"3,6",label:"#000",adash:"4,4"},
  CDF:{data:cdf,x:xC,color:"#000",w:3.2,dash:"20,9",label:"#000",adash:"9,4"},
  RLA1:{data:rla1,x:xR,color:BLUE,w:2.2}, RLA2:{data:rla2,x:xR,color:CYAN,w:2.2},
  RLA3:{data:rla3,x:xR,color:GREEN,w:2.2}, RLA4:{data:rla4,x:xR,color:PINK,w:2.2},
  RLA5:{data:rla5,x:xR,color:RED,w:2.2},
  RXO_HRLT:{data:rxoHrlt,x:xR,color:RXOC,w:4},
  RM_HRLT:{data:rmHrlt,x:xR,color:RMC,w:3,dash:"13,8",adash:"8,5"},
  RT_HRLT:{data:rtHrlt,x:xR,color:RTC,w:4.6}
};
const drawOrder = ["MONSYM1","MONSYM2","MONSYM3","MONSYM4","MONSYM5","CCRA1","CCRA2","CCRA3","CCRA4","CCRA5",
  "INVERR1","INVERR2","INVERR3","INVERR4","INVERR5","DI_HRLT","LCAL","TENS","CDF",
  "RLA1","RLA2","RLA3","RLA4","RLA5","RXO_HRLT","RM_HRLT","RT_HRLT"];
drawOrder.forEach(k=>{const c=curveTable[k]; drawCurve(c.data,c.x,c.color,c.w,c.dash);});

// depth labels
svg.append("g").selectAll("text").data(depthLabels).enter().append("text")
  .attr("x",1066).attr("y",d=>y(d)+3).attr("text-anchor","middle")
  .attr("font-family","'Liberation Sans',Arial,sans-serif").attr("font-size",25).attr("fill","#000")
  .text(d=>d);

// curve labels with arrow callouts
function valueAt(data, depth){
  const i = d3.bisector(d=>d[0]).left(data, depth);
  if(i<=0) return data[0][1];
  if(i>=data.length) return data[data.length-1][1];
  const a=data[i-1], b=data[i];
  const t=(depth-a[0])/(b[0]-a[0]);
  return a[1]+t*(b[1]-a[1]);
}
const arrowPath = "M0,0 L6,-25 L10,-15 L23,-28 L48,-28 L48,-19 L27,-19 L16,-9 L28,-5 Z";
const gLab = svg.append("g");
curveLabels.forEach(([name, depth, left])=>{
  const c = curveTable[name];
  const tx = c.x(valueAt(c.data, depth)), ty = y(depth);
  const col = c.label || c.color;
  const a = gLab.append("path").attr("d",arrowPath)
    .attr("transform",`translate(${tx},${ty}) scale(${left?-1:1},1)`)
    .attr("fill","none").attr("stroke",col).attr("stroke-width",2.8).attr("stroke-linejoin","miter");
  if(c.adash) a.attr("stroke-dasharray",c.adash);
  // the text of a label whose arrow tip lies below the bottom edge is off the page
  if (ty <= H) {
    gLab.append("text").attr("x", left ? tx-55 : tx+55).attr("y", ty+4)
      .attr("text-anchor", left ? "end" : "start")
      .attr("font-family","'Liberation Sans',Arial,sans-serif").attr("font-weight","bold").attr("font-size",31)
      .attr("fill",col).attr("stroke",col).attr("stroke-width",0.8)
      .text(name);
  }
});
</script>
</body></html>
